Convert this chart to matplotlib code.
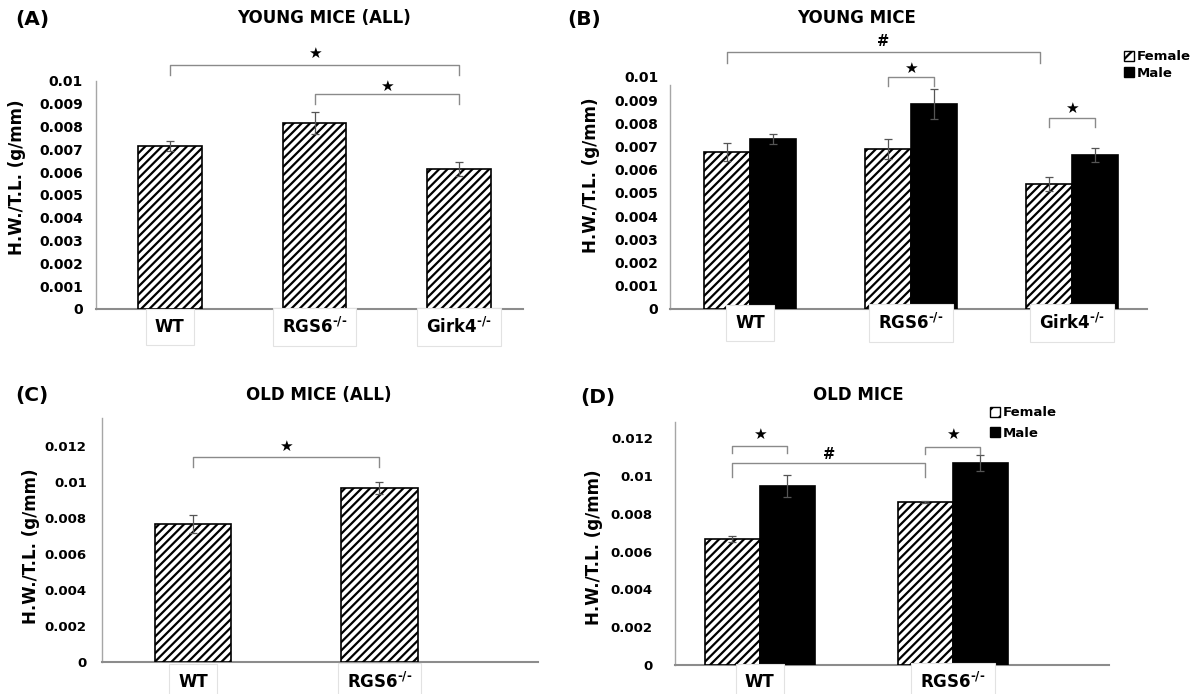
import numpy as np
import matplotlib
matplotlib.use('Agg')
import matplotlib.pyplot as plt
from matplotlib.patches import Patch
from matplotlib.ticker import MultipleLocator, FuncFormatter

plt.rcParams['font.family'] = ['DejaVu Sans']
plt.rcParams['font.weight'] = 'bold'
plt.rcParams['mathtext.fontset'] = 'dejavusans'
plt.rcParams['hatch.linewidth'] = 1.6

# ---------------------------------------------------------------------------
# Data (H.W./T.L., g/mm)
# ---------------------------------------------------------------------------
GENO_YOUNG = ['WT', r'RGS6$^{\text{-/-}}$', r'Girk4$^{\text{-/-}}$']
GENO_OLD = ['WT', r'RGS6$^{\text{-/-}}$']
SEXES = ['Female', 'Male']

young_all     = [0.00715, 0.00816, 0.00614]
young_all_err = [0.00022, 0.00048, 0.00031]

young_female     = [0.00677, 0.00690, 0.00539]
young_female_err = [0.00039, 0.00043, 0.00030]
young_male       = [0.00733, 0.00884, 0.00664]
young_male_err   = [0.00021, 0.00064, 0.00030]

old_all     = [0.00767, 0.00967]
old_all_err = [0.00050, 0.00035]

old_female     = [0.00667, 0.00862]
old_female_err = [0.00016, 0.00006]
old_male       = [0.00947, 0.01069]
old_male_err   = [0.00056, 0.00040]

# significance brackets: (x1, x2, y_top, y_end, mark, mark_y)
brackets_a = [(0, 2, 0.01070, 0.01026, '★', 0.01123),
              (1, 2, 0.00943, 0.00899, '★', 0.00974)]
brackets_b = [(-0.143, 1.80, 0.01108, 0.01060, '#', 0.01151),
              (0.857, 1.143, 0.01000, 0.00961, '★', 0.01039),
              (1.857, 2.143, 0.00823, 0.00784, '★', 0.00866)]
brackets_c = [(0, 1, 0.01139, 0.01083, '★', 0.01200)]
brackets_d = [(-0.1425, 0.1425, 0.01159, 0.01122, '★', 0.01222),
              (0.8575, 1.1425, 0.01153, 0.01116, '★', 0.01222),
              (-0.1425, 0.8575, 0.01069, 0.00995, '#', 0.01116)]

W, H = 1202, 694
HATCH = '////'
LEGEND_HATCH = '//'
ERR_KW = dict(fmt='none', ecolor='#555555', elinewidth=0.9, capsize=3,
              capthick=0.9, zorder=4)


def px(x, y):
    return x / W, 1 - y / H


def make_axes(fig, left, top, right, bottom):
    ax = fig.add_axes([left / W, 1 - bottom / H, (right - left) / W, (bottom - top) / H])
    for s in ('top', 'right'):
        ax.spines[s].set_visible(False)
    ax.spines['left'].set_color('#a6a6a6')
    ax.spines['left'].set_linewidth(1.0)
    ax.spines['bottom'].set_color('#8c8c8c')
    ax.spines['bottom'].set_linewidth(1.5)
    ax.set_xticks([])
    ax.yaxis.set_major_formatter(FuncFormatter(lambda v, p: f'{v:g}'))
    return ax


def style_y(ax, step, ymax, pad, size, label_xy):
    ax.set_ylim(0, ymax)
    ax.yaxis.set_major_locator(MultipleLocator(step))
    ax.tick_params(axis='y', length=0, pad=pad, labelsize=size)
    ax.set_ylabel('H.W./T.L. (g/mm)', fontsize=12, fontweight='bold')
    ax.yaxis.set_label_coords(*label_xy)


def cat_labels(ax, xs, labels, dy):
    for x, lab in zip(xs, labels):
        ax.annotate(lab, xy=(x, 0), xycoords=('data', 'axes fraction'),
                    xytext=(0, -dy), textcoords='offset points',
                    ha='center', va='center', fontsize=12,
                    bbox=dict(boxstyle='square,pad=0.55', fc='white',
                              ec='#e2e2e2', lw=0.8))


def draw_brackets(ax, brackets):
    for x1, x2, yt, ye, mark, my in brackets:
        ax.plot([x1, x1, x2, x2], [ye, yt, yt, ye], color='#8a8a8a', lw=1.0,
                clip_on=False, zorder=5)
        size = 10.5 if mark == '#' else 11
        ax.text((x1 + x2) / 2, my, mark, ha='center', va='center',
                fontsize=size, clip_on=False)


def sex_legend(ax, anchor, spacing):
    handles = [Patch(facecolor='white', edgecolor='black', hatch=LEGEND_HATCH, label=SEXES[0]),
               Patch(facecolor='black', edgecolor='black', label=SEXES[1])]
    ax.legend(handles=handles, loc='center left', bbox_to_anchor=anchor,
              bbox_transform=ax.figure.transFigure, frameon=False,
              fontsize=9.5, handlelength=0.75, handleheight=0.75,
              handletextpad=0.25, borderpad=0, borderaxespad=0,
              labelspacing=spacing)


fig = plt.figure(figsize=(W / 100, H / 100), dpi=100)

# ---------------------------------------------------------------------------
# (A) young mice, all
# ---------------------------------------------------------------------------
ax = make_axes(fig, 96, 81, 523, 309)
x = np.arange(len(GENO_YOUNG))
ax.bar(x, young_all, 0.44, facecolor='white', edgecolor='black', hatch=HATCH,
       linewidth=1.2, zorder=3)
ax.errorbar(x, young_all, yerr=young_all_err, **ERR_KW)
ax.set_xlim(-0.51, 2.44)
style_y(ax, 0.001, 0.01, 9.5, 10, (-0.164, 0.579))
cat_labels(ax, x, GENO_YOUNG, 13)
draw_brackets(ax, brackets_a)

# ---------------------------------------------------------------------------
# (B) young mice by sex
# ---------------------------------------------------------------------------
ax = make_axes(fig, 670, 77, 1147, 309)
w = 0.286
ax.bar(x - w / 2, young_female, w, facecolor='white', edgecolor='black',
       hatch=HATCH, linewidth=1.2, zorder=3)
ax.bar(x + w / 2, young_male, w, facecolor='black', edgecolor='black',
       linewidth=1.2, zorder=3)
ax.errorbar(x - w / 2, young_female, yerr=young_female_err, **ERR_KW)
ax.errorbar(x + w / 2, young_male, yerr=young_male_err, **ERR_KW)
ax.set_xlim(-0.497, 2.466)
style_y(ax, 0.001, 0.01, 8.5, 10, (-0.147, 0.578))
ax.spines['left'].set_bounds(0, 0.00966)
cat_labels(ax, x, GENO_YOUNG, 10)
draw_brackets(ax, brackets_b)
sex_legend(ax, px(1124, 65), 0.25)

# ---------------------------------------------------------------------------
# (C) old mice, all
# ---------------------------------------------------------------------------
ax = make_axes(fig, 102, 418, 538, 662)
x2 = np.arange(len(GENO_OLD))
ax.bar(x2, old_all, 0.41, facecolor='white', edgecolor='black', hatch=HATCH,
       linewidth=1.2, zorder=3)
ax.errorbar(x2, old_all, yerr=old_all_err, **ERR_KW)
ax.set_xlim(-0.488, 1.85)
style_y(ax, 0.002, 0.01356, 11, 9.5, (-0.142, 0.475))
cat_labels(ax, x2, GENO_OLD, 14.4)
draw_brackets(ax, brackets_c)

# ---------------------------------------------------------------------------
# (D) old mice by sex
# ---------------------------------------------------------------------------
ax = make_axes(fig, 675, 422, 1109, 665)
w = 0.285
ax.bar(x2 - w / 2, old_female, w, facecolor='white', edgecolor='black',
       hatch=HATCH, linewidth=1.2, zorder=3)
ax.bar(x2 + w / 2, old_male, w, facecolor='black', edgecolor='black',
       linewidth=1.2, zorder=3)
ax.errorbar(x2 - w / 2, old_female, yerr=old_female_err, **ERR_KW)
ax.errorbar(x2 + w / 2, old_male, yerr=old_male_err, **ERR_KW)
ax.set_xlim(-0.44, 1.81)
style_y(ax, 0.002, 0.01286, 16, 9.5, (-0.166, 0.486))
cat_labels(ax, x2, GENO_OLD, 12.2)
draw_brackets(ax, brackets_d)
sex_legend(ax, px(990, 423), 0.55)

# ---------------------------------------------------------------------------
# titles and panel letters
# ---------------------------------------------------------------------------
for (lx, ly), letter in zip([(15, 19), (567, 19), (15, 395), (580, 397)],
                            ['(A)', '(B)', '(C)', '(D)']):
    fig.text(*px(lx, ly), letter, fontsize=14.5, ha='left', va='center')
for (tx, ty), title in zip([(324, 18), (857, 18), (319, 395), (858, 395)],
                           ['YOUNG MICE (ALL)', 'YOUNG MICE', 'OLD MICE (ALL)', 'OLD MICE']):
    fig.text(*px(tx, ty), title, fontsize=12, ha='center', va='center')

fig.savefig('out.png', dpi=100)
